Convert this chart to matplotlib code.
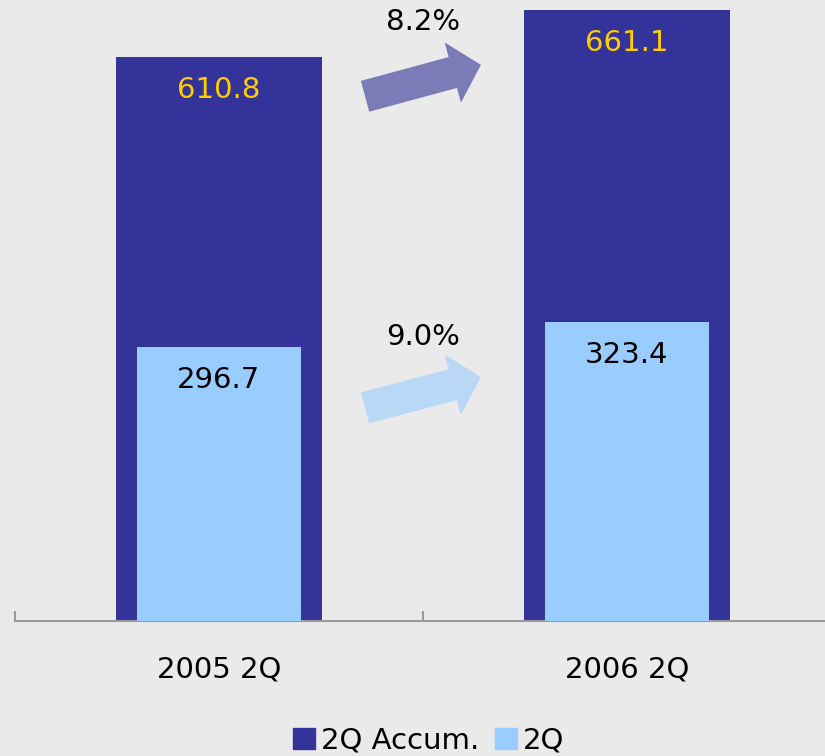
import matplotlib
matplotlib.use("Agg")
import matplotlib.pyplot as plt
from matplotlib.patches import Patch
import numpy as np

# chart data
categories = ["2005 2Q", "2006 2Q"]
accum = [610.8, 661.1]
quarter = [296.7, 323.4]
growth_accum = "8.2%"
growth_quarter = "9.0%"

bg = "#EAEAEA"
dark = "#333399"
light = "#99CCFF"
gold = "#FFCC00"

plt.rcParams['font.family'] = ['DejaVu Sans']

fig = plt.figure(figsize=(8.25, 7.56), dpi=100, facecolor=bg)
ax = fig.add_axes([15/825, 135/756, 810/825, 621/756], facecolor=bg)

x = np.arange(len(categories))
ax.bar(x, accum, width=0.5025, color=dark, zorder=2)
ax.bar(x, quarter, width=0.404, color=light, zorder=3)

for xi, v in zip(x, accum):
    ax.annotate(f"{v:.1f}", (xi, v), xytext=(0, -24), textcoords="offset points",
                ha="center", va="center", fontsize=21, color=gold, zorder=5)
for xi, v in zip(x, quarter):
    ax.annotate(f"{v:.1f}", (xi, v), xytext=(0, -24), textcoords="offset points",
                ha="center", va="center", fontsize=21, color="black", zorder=5)

# growth arrows between the bars
mid = (x[0] + x[1]) / 2
style = "simple,head_width=45,head_length=21,tail_width=23"
ax.annotate("", xy=(mid + 0.142, accum[0] - 9), xytext=(mid - 0.142, accum[0] - 43),
            arrowprops=dict(arrowstyle=style, color="#7B7BB8", mutation_scale=1,
                            shrinkA=0, shrinkB=0, lw=0), zorder=4)
ax.annotate("", xy=(mid + 0.142, quarter[0] - 33), xytext=(mid - 0.142, quarter[0] - 66),
            arrowprops=dict(arrowstyle=style, color="#B8D8F5", mutation_scale=1,
                            shrinkA=0, shrinkB=0, lw=0), zorder=4)
ax.text(mid, 648, growth_accum, ha="center", va="center", fontsize=21, zorder=5)
ax.text(mid, 307, growth_quarter, ha="center", va="center", fontsize=21, zorder=5)

for s in ["left", "right", "top"]:
    ax.spines[s].set_visible(False)
ax.spines["bottom"].set_color("#999999")
ax.spines["bottom"].set_linewidth(1.5)
ax.set_yticks([])
ax.set_xticks(x)
ax.set_xticklabels(categories, fontsize=21)
ax.tick_params(axis="x", which="major", length=0, pad=25)
ax.set_xticks([-0.5, 0.5, 1.5], minor=True)
ax.tick_params(axis="x", which="minor", direction="in", length=7, width=1.5, color="#999999")

ax.set_xlim(-0.5, -0.5 + 810/408)
ax.set_ylim(0, 672)

handles = [Patch(color=dark, label="2Q Accum."), Patch(color=light, label="2Q")]
fig.legend(handles=handles, loc="center", bbox_to_anchor=(0.52, 0.02), ncol=2,
           frameon=False, fontsize=21, handlelength=0.75, handleheight=0.75,
           handletextpad=0.2, columnspacing=0.55)

fig.savefig("out.png", dpi=100, facecolor=bg)
